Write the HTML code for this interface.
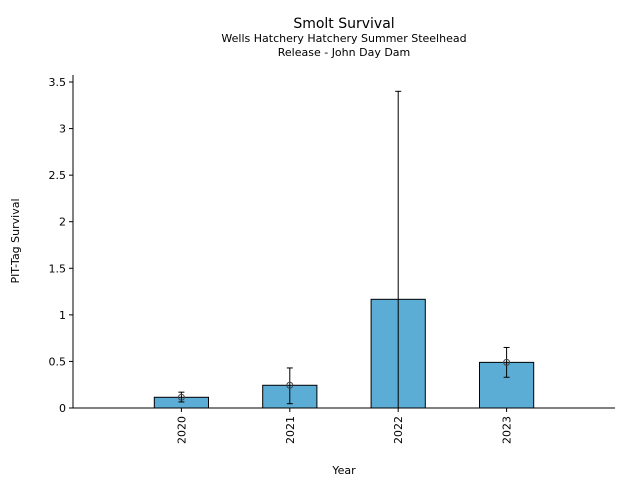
<!DOCTYPE html>
<html><head><meta charset="utf-8"><style>body{margin:0;background:#fff}svg{display:block;font-family:"DejaVu Sans","Liberation Sans",sans-serif}</style></head>
<body>
<svg id="chart" width="640" height="480" xmlns="http://www.w3.org/2000/svg">
<text x="344" y="28" font-size="14" text-anchor="middle">Smolt Survival</text>
<text x="344" y="42" font-size="11" text-anchor="middle">Wells Hatchery Hatchery Summer Steelhead</text>
<text x="344" y="56" font-size="11" text-anchor="middle">Release - John Day Dam</text>
<g id="plot"></g>
<text x="344" y="474" font-size="11" text-anchor="middle">Year</text>
<text x="19" y="241" font-size="11" text-anchor="middle" transform="rotate(-90 19 241)">PIT-Tag Survival</text>
</svg>
<script>
const categories=["2020","2021","2022","2023"];
const values=[0.115,0.244,1.167,0.49];
const errLow=[0.065,0.046,-1.0,0.33];
const errHigh=[0.17,0.43,3.40,0.65];
const showMarker=[true,true,false,true];
const yTicks=[0,0.5,1,1.5,2,2.5,3,3.5];
const yTickLabels=["0","0.5","1","1.5","2","2.5","3","3.5"];
const L=73,R=615,B=408,T=75;
const y=v=>B-v*93.14;
const x=i=>L+(i+1)*(R-L)/5;
const bw=0.5*(R-L)/5;
const g=document.getElementById('plot');
const NS="http://www.w3.org/2000/svg";
function mk(t,a){const e=document.createElementNS(NS,t);for(const k in a)e.setAttribute(k,a[k]);g.appendChild(e);return e;}
categories.forEach((c,i)=>{
 const r=mk('rect',{x:x(i)-bw/2,y:y(values[i]),width:bw,height:B-y(values[i]),fill:'#5badd6',stroke:'#000','stroke-width':1});
 
 
 const lo=Math.min(B,y(errLow[i])),hi=y(errHigh[i]);
 const l=mk('line',{x1:x(i),x2:x(i),y1:lo,y2:hi,stroke:'#000','stroke-width':1});
 
 
 [hi,lo].forEach(yy=>{if(yy<B){const cp=mk('line',{x1:x(i)-3,x2:x(i)+3,y1:yy,y2:yy,stroke:'#000','stroke-width':1});
 
 }});
 if(showMarker[i]){const m=mk('circle',{cx:x(i),cy:y(values[i]),r:3,fill:'none',stroke:'#444','stroke-width':1});
 
 }
 const tk=mk('line',{x1:x(i),x2:x(i),y1:B,y2:B+4,stroke:'#000'});
 
 
 const t=mk('text',{x:x(i)+4,y:B+8,'font-size':11,'text-anchor':'end',transform:`rotate(-90 ${x(i)+4} ${B+8})`});
 t.textContent=c;
 
 
});
yTicks.forEach((v,i)=>{
 const tk=mk('line',{x1:L-4,x2:L,y1:y(v),y2:y(v),stroke:'#000'});
 
 
 const t=mk('text',{x:L-7,y:y(v)+4,'font-size':11,'text-anchor':'end'});
 t.textContent=yTickLabels[i];
 
 
});
const ya=mk('line',{x1:L,x2:L,y1:T,y2:B,stroke:'#000'});


const xa=mk('line',{x1:L,x2:R,y1:B,y2:B,stroke:'#000'});


</script>
</body></html>
